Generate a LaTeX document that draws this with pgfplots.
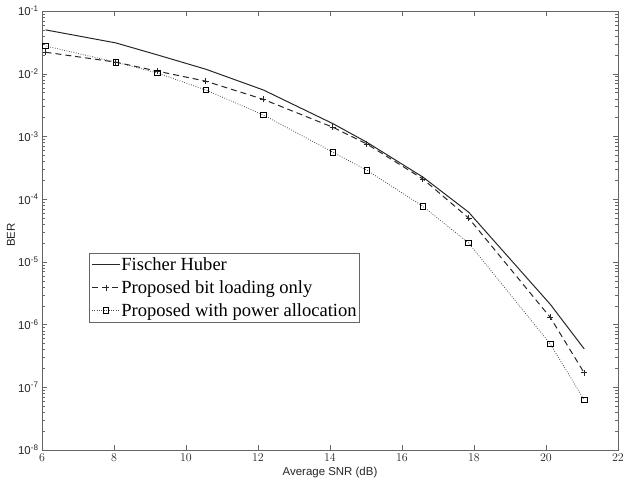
\documentclass[border=0pt]{standalone}
\usepackage{pgfplots}
\pgfplotsset{compat=1.18}
\usepackage{fontspec}
\setmainfont{Liberation Sans}
\newfontfamily\seriffont{Liberation Serif}

\begin{document}
\begin{tikzpicture}
\begin{axis}[
  at={(0,0)}, anchor=south west,
  scale only axis, width=576bp, height=439bp,
  xmin=6, xmax=22, ymin=1e-8, ymax=1e-1,
  ymode=log,
  xtick={6,8,10,12,14,16,18,20,22},
  ytick={1e-8,1e-7,1e-6,1e-5,1e-4,1e-3,1e-2,1e-1},
  yticklabels={10\textsuperscript{-8},10\textsuperscript{-7},10\textsuperscript{-6},10\textsuperscript{-5},10\textsuperscript{-4},10\textsuperscript{-3},10\textsuperscript{-2},10\textsuperscript{-1}},
  tick align=inside,
  major tick length=5bp, minor tick length=3bp,
  axis line style={black!60},
  tick style={black!60},
  ticklabel style={font=\fontsize{11.5}{11.5}\selectfont, text=black!85},
  xlabel={Average SNR (dB)}, ylabel={BER},
  label style={font=\fontsize{11.5}{12}\selectfont, text=black!85},
  xlabel style={at={(axis description cs:0.5,-0.052)}, anchor=center},
  ylabel style={at={(axis description cs:-0.054,0.49)}, anchor=center, rotate=0},
  legend cell align=left,
  legend style={at={(axis description cs:0.082,0.449)}, anchor=north west,
    draw=black!60, font=\seriffont\fontsize{18.6}{22}\selectfont,
    row sep=6.5bp, inner xsep=2pt, inner ysep=3.5pt,
    nodes={inner xsep=1pt, inner ysep=1pt}},
  legend image code/.code={\draw[mark repeat=2,mark phase=2] plot coordinates {(0bp,0bp) (14bp,0bp) (28bp,0bp)};},
]
\addplot[black!85, line width=1pt] coordinates {
 (6.1,0.050) (8.05,0.031) (9.2,0.020) (10.55,0.0118) (12.15,0.0055)
 (14.08,0.0016) (15.02,8.1e-4) (16.58,2.25e-4) (17.85,6.2e-5) (20.12,2.1e-6) (21.06,4.1e-7)};
\addlegendentry{Fischer Huber}
\addplot[black!85, line width=1pt, dash pattern=on 6pt off 4pt,
  mark=+, mark size=3pt, mark options={solid, line width=0.8pt}] coordinates {
 (6.1,0.022) (8.05,0.0153) (9.2,0.011) (10.55,7.6e-3) (12.15,3.9e-3)
 (14.08,1.4e-3) (15.02,7.6e-4) (16.58,2.1e-4) (17.85,5.0e-5) (20.12,1.3e-6) (21.06,1.7e-7)};
\addlegendentry{Proposed bit loading only}
\addplot[black!70, line width=0.8pt, dash pattern=on 0.8pt off 1.6pt,
  mark=square, mark size=2.8pt, mark options={solid, black, line width=0.8pt, fill=white}] coordinates {
 (6.1,0.0277) (8.05,0.0153) (9.2,0.0103) (10.55,5.5e-3) (12.15,2.2e-3)
 (14.08,5.6e-4) (15.02,2.9e-4) (16.58,7.7e-5) (17.85,2.0e-5) (20.12,4.9e-7) (21.06,6.3e-8)};
\addlegendentry{Proposed with power allocation}
\end{axis}
\pgfresetboundingbox
\path (-42bp,-33bp) rectangle (582bp,450bp);
\end{tikzpicture}
\end{document}
